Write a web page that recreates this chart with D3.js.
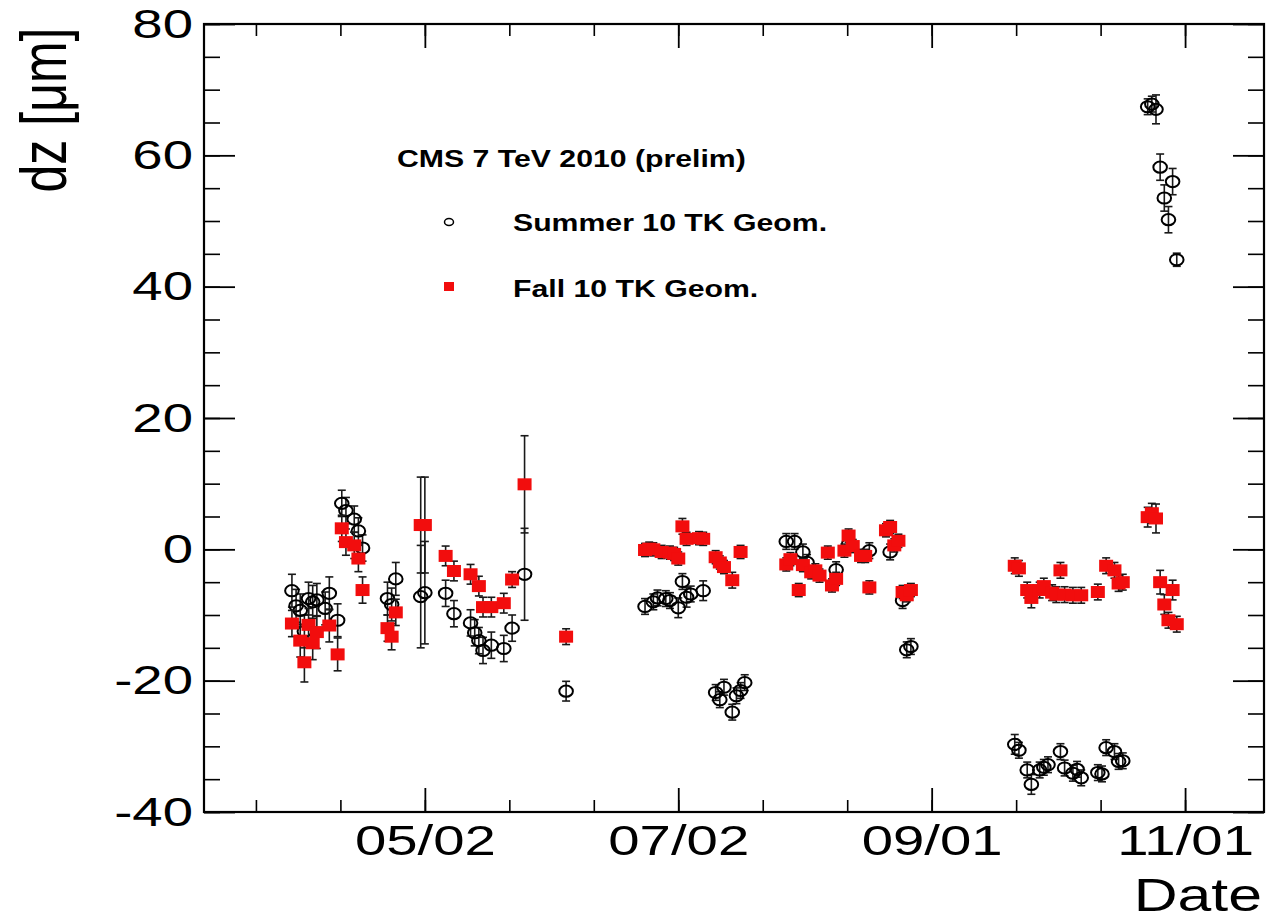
<!DOCTYPE html>
<html>
<head>
<meta charset="utf-8">
<script src="https://cdn.jsdelivr.net/npm/d3@7"></script>
<style>
  html, body { margin: 0; padding: 0; background: #ffffff; }
  svg { display: block; font-family: "Liberation Sans", Arial, Helvetica, sans-serif; }
</style>
</head>
<body>
<svg id="chart" width="1272" height="920"></svg>
<script>
// ---------------- data ----------------
const summerDates = [
  "2010-03-31","2010-04-01","2010-04-02","2010-04-03","2010-04-04","2010-04-05","2010-04-06","2010-04-08","2010-04-09","2010-04-11",
  "2010-04-12","2010-04-13","2010-04-15","2010-04-16","2010-04-17",
  "2010-04-23","2010-04-24","2010-04-25",
  "2010-05-01","2010-05-02",
  "2010-05-07","2010-05-09","2010-05-13","2010-05-14","2010-05-15","2010-05-16","2010-05-18","2010-05-21","2010-05-23","2010-05-26",
  "2010-06-05",
  "2010-06-24","2010-06-26","2010-06-27","2010-06-29","2010-06-30","2010-07-02","2010-07-03","2010-07-04","2010-07-05","2010-07-08",
  "2010-07-11","2010-07-12","2010-07-13","2010-07-15","2010-07-16","2010-07-17","2010-07-18",
  "2010-07-28","2010-07-30","2010-08-01","2010-08-02","2010-08-09","2010-08-12","2010-08-17","2010-08-22","2010-08-25","2010-08-26","2010-08-27",
  "2010-09-21","2010-09-22","2010-09-24","2010-09-25","2010-09-27","2010-09-28","2010-09-29","2010-10-02","2010-10-03","2010-10-05","2010-10-06","2010-10-07","2010-10-11","2010-10-12","2010-10-13","2010-10-15","2010-10-16","2010-10-17",
  "2010-10-23","2010-10-24","2010-10-25","2010-10-26","2010-10-27","2010-10-28","2010-10-29","2010-10-30"
];
const summerValues = [
  -6.3,-8.6,-9.3,-12.5,-7.5,-8.0,-7.7,-9.0,-6.7,-10.8,
  7.0,5.9,4.6,2.8,0.2,
  -7.5,-8.4,-4.5,
  -7.2,-6.6,
  -6.7,-9.8,-11.2,-12.7,-13.9,-15.4,-14.6,-15.1,-12.0,-3.8,
  -21.6,
  -8.7,-8.0,-7.4,-7.5,-7.8,-8.9,-4.9,-7.3,-6.8,-6.3,
  -21.8,-22.9,-21.0,-24.8,-22.3,-21.5,-20.3,
  1.2,1.2,-0.4,-2.0,-3.1,0.8,-0.2,-0.4,-7.8,-15.3,-14.8,
  -29.7,-30.6,-33.6,-35.8,-33.6,-33.2,-32.8,-30.8,-33.3,-34.1,-33.5,-34.8,-34.0,-34.2,-30.2,-30.8,-32.3,-32.2,
  67.4,67.8,67.0,58.2,53.5,50.2,56.0,44.1
];
const summerErrors = [
  2.5,2.5,2.5,2.5,2.5,2.5,2.5,2.5,2.5,2.5,
  2.0,2.0,2.0,2.0,2.0,
  2.5,2.5,2.5,
  7.8,7.8,
  2.0,2.0,2.0,2.0,2.0,2.0,2.0,2.0,2.0,7.0,
  1.5,
  1.2,1.2,1.2,1.2,1.2,1.5,1.2,1.5,1.2,1.5,
  1.2,1.2,1.2,1.2,1.2,1.2,1.2,
  1.2,1.2,1.2,1.2,1.2,1.2,1.2,1.2,1.2,1.2,1.2,
  1.5,1.2,1.2,1.5,1.2,1.2,1.2,1.2,1.2,1.2,1.2,1.2,1.2,1.2,1.2,1.2,1.2,1.2,
  1.2,1.2,2.2,2.0,2.0,2.0,2.0,1.0
];

const fallDates = [
  "2010-03-31","2010-04-02","2010-04-03","2010-04-04","2010-04-05","2010-04-06","2010-04-09","2010-04-11",
  "2010-04-12","2010-04-13","2010-04-15","2010-04-16","2010-04-17",
  "2010-04-23","2010-04-24","2010-04-25",
  "2010-05-01","2010-05-02",
  "2010-05-07","2010-05-09","2010-05-13","2010-05-15","2010-05-16","2010-05-18","2010-05-21","2010-05-23","2010-05-26",
  "2010-06-05",
  "2010-06-24","2010-06-25","2010-06-26","2010-06-28","2010-06-30","2010-07-01","2010-07-02","2010-07-03","2010-07-04","2010-07-07","2010-07-08","2010-07-11","2010-07-12","2010-07-13","2010-07-15","2010-07-17",
  "2010-07-28","2010-07-29","2010-07-31","2010-08-01","2010-08-03","2010-08-04","2010-08-05","2010-08-07","2010-08-08","2010-08-09","2010-08-11","2010-08-12","2010-08-13","2010-08-15","2010-08-16","2010-08-17","2010-08-21","2010-08-22","2010-08-23","2010-08-24","2010-08-25","2010-08-26","2010-08-27",
  "2010-09-21","2010-09-22","2010-09-24","2010-09-25","2010-09-27","2010-09-28","2010-09-30","2010-10-01","2010-10-02","2010-10-03","2010-10-05","2010-10-07","2010-10-11","2010-10-13","2010-10-15","2010-10-16","2010-10-17",
  "2010-10-23","2010-10-24","2010-10-25","2010-10-26","2010-10-27","2010-10-28","2010-10-29","2010-10-30"
];
const fallValues = [
  -11.3,-13.9,-17.2,-11.5,-14.3,-12.6,-11.6,-16.0,
  3.2,1.1,0.6,-1.4,-6.2,
  -12.0,-13.3,-9.6,
  3.7,3.7,
  -1.0,-3.3,-3.8,-5.6,-8.8,-8.8,-8.2,-4.6,9.9,
  -13.3,
  -0.1,0.1,0.0,-0.4,-0.5,-0.7,-1.4,3.5,1.6,1.7,1.6,-1.2,-2.0,-2.7,-4.7,-0.4,
  -2.3,-1.5,-6.2,-2.4,-3.5,-3.2,-4.0,-0.5,-5.5,-4.5,-0.2,2.1,0.5,-1.0,-1.0,-5.8,2.9,3.4,0.6,1.3,-6.5,-7.0,-6.2,
  -2.5,-2.9,-6.2,-7.4,-6.2,-5.6,-6.6,-6.9,-3.2,-6.9,-7.0,-7.0,-6.5,-2.5,-3.2,-5.2,-5.0,
  4.9,5.5,4.7,-5.0,-8.4,-10.8,-6.2,-11.4
];
const fallErrors = [
  2.0,2.5,3.0,2.5,2.5,2.5,2.5,2.5,
  2.0,2.0,2.0,2.0,2.0,
  2.0,2.0,2.0,
  7.3,7.3,
  1.5,1.5,1.5,1.5,1.5,1.5,1.5,1.2,7.4,
  1.2,
  1.0,1.0,1.0,1.0,1.0,1.0,1.0,1.2,1.0,1.0,1.0,1.0,1.0,1.0,1.2,1.0,
  1.0,1.0,1.0,1.0,1.0,1.0,1.0,1.0,1.0,1.0,1.0,1.0,1.0,1.0,1.0,1.0,1.0,1.0,1.0,1.0,1.0,1.0,1.0,
  1.2,1.2,1.2,1.5,1.2,1.2,1.2,1.2,1.2,1.2,1.2,1.2,1.2,1.2,1.2,1.2,1.2,
  1.5,1.5,2.2,1.8,1.5,1.2,1.5,1.2
];

const xTickDates = ["2010-05-02","2010-07-02","2010-09-01","2010-11-01"];
const xTickLabels = ["05/02","07/02","09/01","11/01"];
const yTickValues = [-40,-20,0,20,40,60,80];
const yTickLabels = ["-40","-20","0","20","40","60","80"];
const xDomain = ["2010-03-09T20:00","2010-11-20T00:00"];
const yDomain = [-40, 80];

const titleText = "CMS 7 TeV 2010 (prelim)";
const seriesNames = ["Summer 10 TK Geom.", "Fall 10 TK Geom."];
const xAxisTitle = "Date";
const yAxisTitle = "dz [\u03bcm]";

// ---------------- drawing ----------------
const parseDay = d3.utcParse("%Y-%m-%d");
const parseDT = d3.utcParse("%Y-%m-%dT%H:%M");

const L = 204, R = 1264, T = 24, B = 812;
const svg = d3.select("#chart");

const x = d3.scaleUtc().domain(xDomain.map(parseDT)).range([L, R]);
const y = d3.scaleLinear().domain(yDomain).range([B, T]);

const majorDates = xTickDates.map(parseDay);
// minor ticks: 3 divisions per major interval
const minorDates = [];
const step = majorDates[1] - majorDates[0];
for (let t = +majorDates[0] - step; t <= +x.domain()[1]; t += step / 3) {
  if (t >= +x.domain()[0]) minorDates.push(new Date(t));
}
const yMinor = d3.range(yDomain[0], yDomain[1] + 0.01, 5);

const tickStroke = (g, w) => g.selectAll("line").attr("stroke", "#000").attr("stroke-width", w);

// bottom axis
const gB = svg.append("g").attr("transform", `translate(0,${B})`)
  .call(d3.axisBottom(x).tickValues(minorDates).tickSize(-12).tickFormat(""));
gB.select(".domain").remove(); tickStroke(gB, 1.6);
const gBM = svg.append("g").attr("transform", `translate(0,${B})`)
  .call(d3.axisBottom(x).tickValues(majorDates).tickSize(-24).tickPadding(12)
    .tickFormat((d, i) => xTickLabels[i]));
gBM.select(".domain").remove(); tickStroke(gBM, 1.8);
gBM.selectAll("text").attr("font-size", 43).attr("fill", "#000")
  .attr("font-family", "Liberation Sans, Arial, sans-serif")
  .attr("transform", "scale(1.31,1)");

// top axis (ticks only)
const gT = svg.append("g").attr("transform", `translate(0,${T})`)
  .call(d3.axisTop(x).tickValues(minorDates).tickSize(-12).tickFormat(""));
gT.select(".domain").remove(); tickStroke(gT, 1.6);
const gTM = svg.append("g").attr("transform", `translate(0,${T})`)
  .call(d3.axisTop(x).tickValues(majorDates).tickSize(-24).tickFormat(""));
gTM.select(".domain").remove(); tickStroke(gTM, 1.8);

// left axis
const gL = svg.append("g").attr("transform", `translate(${L},0)`)
  .call(d3.axisLeft(y).tickValues(yMinor).tickSize(-16).tickFormat(""));
gL.select(".domain").remove(); tickStroke(gL, 1.6);
const gLM = svg.append("g").attr("transform", `translate(${L},0)`)
  .call(d3.axisLeft(y).tickValues(yTickValues).tickSize(-31).tickPadding(8)
    .tickFormat((d, i) => yTickLabels[i]));
gLM.select(".domain").remove(); tickStroke(gLM, 1.8);
gLM.selectAll("text").attr("font-size", 41).attr("fill", "#000")
  .attr("font-family", "Liberation Sans, Arial, sans-serif")
  .attr("x", -11 / 1.33).attr("transform", "scale(1.33,1)");

// right axis (ticks only)
const gR = svg.append("g").attr("transform", `translate(${R},0)`)
  .call(d3.axisRight(y).tickValues(yMinor).tickSize(-16).tickFormat(""));
gR.select(".domain").remove(); tickStroke(gR, 1.6);
const gRM = svg.append("g").attr("transform", `translate(${R},0)`)
  .call(d3.axisRight(y).tickValues(yTickValues).tickSize(-31).tickFormat(""));
gRM.select(".domain").remove(); tickStroke(gRM, 1.8);

// frame
svg.append("rect").attr("x", L).attr("y", T).attr("width", R - L).attr("height", B - T)
  .attr("fill", "none").attr("stroke", "#000").attr("stroke-width", 2.2);

// axis titles
svg.append("text").attr("transform", `translate(1262,911) scale(1.32,1)`)
  .attr("text-anchor", "end").attr("font-size", 46).attr("fill", "#000").text(xAxisTitle);
svg.append("text").attr("transform", `translate(66,110) scale(1.3,1) rotate(-90)`)
  .attr("text-anchor", "middle").attr("font-size", 50).attr("fill", "#000").text(yAxisTitle);

// data
const summer = summerDates.map((d, i) => ({ t: parseDay(d), v: summerValues[i], e: summerErrors[i] }));
const fall = fallDates.map((d, i) => ({ t: parseDay(d), v: fallValues[i], e: fallErrors[i] }));

function errorBars(data, cls) {
  const g = svg.append("g").attr("class", cls).attr("stroke", "#1a1a1a").attr("stroke-width", 1.6).attr("fill", "none");
  const eg = g.selectAll("g").data(data).join("g");
  eg.append("line").attr("x1", d => x(d.t)).attr("x2", d => x(d.t))
    .attr("y1", d => y(d.v - d.e)).attr("y2", d => y(d.v + d.e));
  eg.append("line").attr("x1", d => x(d.t) - 4).attr("x2", d => x(d.t) + 4)
    .attr("y1", d => y(d.v + d.e)).attr("y2", d => y(d.v + d.e));
  eg.append("line").attr("x1", d => x(d.t) - 4).attr("x2", d => x(d.t) + 4)
    .attr("y1", d => y(d.v - d.e)).attr("y2", d => y(d.v - d.e));
}

errorBars(summer, "err-summer");
svg.append("g").selectAll("ellipse").data(summer).join("ellipse")
  .attr("cx", d => x(d.t)).attr("cy", d => y(d.v)).attr("rx", 6.8).attr("ry", 5.6)
  .attr("fill", "none").attr("stroke", "#000").attr("stroke-width", 2);

errorBars(fall, "err-fall");
svg.append("g").selectAll("rect").data(fall).join("rect")
  .attr("x", d => x(d.t) - 7).attr("y", d => y(d.v) - 6).attr("width", 14).attr("height", 12)
  .attr("fill", "#f20d0d");

// legend
svg.append("text").attr("transform", "translate(397,167) scale(1.26,1)")
  .attr("font-size", 24).attr("font-weight", "bold").attr("fill", "#000").text(titleText);
svg.append("ellipse").attr("cx", 449).attr("cy", 222).attr("rx", 4.5).attr("ry", 3.5)
  .attr("fill", "none").attr("stroke", "#000").attr("stroke-width", 1.5);
svg.append("text").attr("transform", "translate(513,231) scale(1.26,1)")
  .attr("font-size", 24).attr("font-weight", "bold").attr("fill", "#000").text(seriesNames[0]);
svg.append("rect").attr("x", 444).attr("y", 282).attr("width", 10).attr("height", 9).attr("fill", "#f20d0d");
svg.append("text").attr("transform", "translate(513,297) scale(1.26,1)")
  .attr("font-size", 24).attr("font-weight", "bold").attr("fill", "#000").text(seriesNames[1]);
</script>
</body>
</html>
